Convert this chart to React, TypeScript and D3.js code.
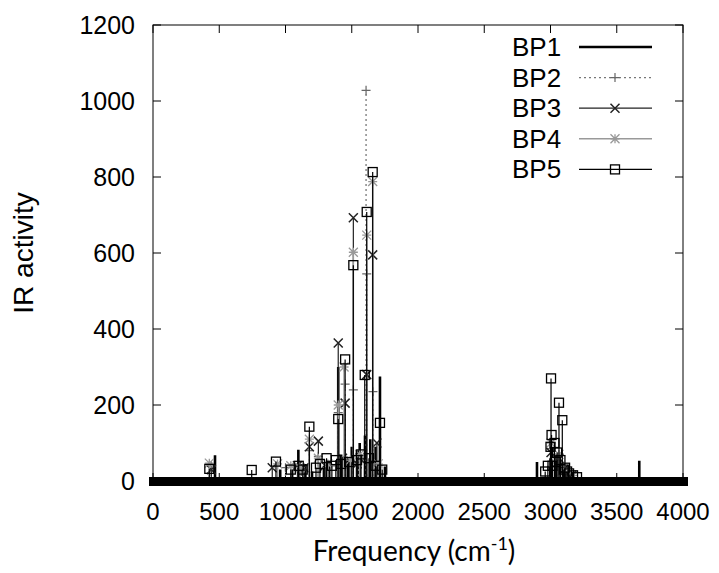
import * as d3 from "d3";

// peaks: [frequency cm-1, IR activity]
const bp1: [number, number][] = [
  [468, 68], [960, 30], [1050, 30], [1097, 82], [1150, 45], [1200, 25], [1290, 40],
  [1330, 50], [1398, 300], [1420, 70], [1470, 60], [1500, 90], [1540, 80], [1560, 100],
  [1600, 120], [1640, 110], [1680, 90], [1713, 275], [1751, 38], [2000, 8], [2506, 8],
  [2898, 50], [3000, 60], [3040, 40], [3502, 8], [3670, 53],
];
const bp2: [number, number][] = [
  [440, 40], [1000, 35], [1120, 30], [1180, 80], [1248, 65], [1340, 40], [1398, 180],
  [1450, 255], [1512, 240], [1550, 50], [1608, 1028], [1613, 545], [1660, 235],
  [1700, 40], [3004, 85], [3060, 55], [3130, 25],
];
const bp3: [number, number][] = [
  [440, 30], [900, 35], [1090, 40], [1140, 35], [1180, 90], [1248, 105], [1300, 40],
  [1398, 363], [1430, 60], [1450, 205], [1512, 693], [1540, 45], [1560, 60], [1613, 280],
  [1658, 595], [1690, 100], [3004, 75], [3040, 45], [3064, 60], [3100, 30], [3160, 15],
];
const bp4: [number, number][] = [
  [425, 47], [940, 45], [1040, 40], [1110, 35], [1180, 110], [1248, 60], [1320, 45],
  [1398, 200], [1442, 300], [1490, 55], [1512, 602], [1560, 70], [1613, 647], [1658, 788],
  [1700, 45], [3004, 100], [3030, 50], [3064, 70], [3110, 30], [3170, 15],
];
const bp5: [number, number][] = [
  [425, 32], [745, 29], [928, 51], [1040, 30], [1100, 40], [1130, 30], [1180, 143],
  [1230, 35], [1260, 45], [1310, 60], [1350, 40], [1380, 55], [1398, 163], [1420, 45],
  [1450, 320], [1480, 50], [1512, 568], [1540, 55], [1570, 70], [1598, 279], [1613, 708],
  [1630, 60], [1658, 813], [1680, 40], [1713, 153], [1730, 30], [2960, 25], [2980, 40],
  [3000, 90], [3004, 270], [3008, 121], [3015, 40], [3030, 100], [3040, 50], [3050, 75],
  [3064, 206], [3075, 55], [3089, 160], [3100, 30], [3110, 35], [3125, 25], [3140, 20],
  [3170, 15], [3200, 10],
];

const names = ["BP1", "BP2", "BP3", "BP4", "BP5"];
const xTicks = [0, 500, 1000, 1500, 2000, 2500, 3000, 3500, 4000];
const yTicks = [0, 200, 400, 600, 800, 1000, 1200];

const W = 719, H = 573;
const x = d3.scaleLinear().domain([0, 4000]).range([153, 683]);
const y = d3.scaleLinear().domain([0, 1200]).range([481, 25]);

const styles = [
  { stroke: "#000", width: 2.6, dash: undefined, mark: "none" },
  { stroke: "#777", width: 1.3, dash: "2,3", mark: "plus" },
  { stroke: "#222", width: 1.2, dash: undefined, mark: "cross" },
  { stroke: "#999", width: 1.5, dash: undefined, mark: "star" },
  { stroke: "#000", width: 1.2, dash: undefined, mark: "square" },
];

function Marker({ kind, cx, cy, color }: { kind: string; cx: number; cy: number; color: string }) {
  const s = 4.5;
  if (kind === "plus")
    return <path d={`M${cx - s},${cy}H${cx + s}M${cx},${cy - s}V${cy + s}`} stroke={color} strokeWidth={1.2} />;
  if (kind === "cross")
    return <path d={`M${cx - s},${cy - s}L${cx + s},${cy + s}M${cx - s},${cy + s}L${cx + s},${cy - s}`} stroke={color} strokeWidth={1.5} />;
  if (kind === "star")
    return (
      <path
        d={`M${cx - s},${cy}H${cx + s}M${cx},${cy - s}V${cy + s}M${cx - s},${cy - s}L${cx + s},${cy + s}M${cx - s},${cy + s}L${cx + s},${cy - s}`}
        stroke={color}
        strokeWidth={1.3}
      />
    );
  if (kind === "square")
    return <rect x={cx - s} y={cy - s} width={2 * s} height={2 * s} fill="none" stroke={color} strokeWidth={1.3} />;
  return null;
}

export default function App() {
  const series = [bp1, bp2, bp3, bp4, bp5];
  const y0 = y(0);
  const font = "'Liberation Sans', Arial, sans-serif";

  return (
    <svg width={W} height={H} style={{ position: "absolute", left: 0, top: 0, background: "#fff" }}>
      {/* frame + inward ticks */}
      <rect x={x(0)} y={y(1200)} width={x(4000) - x(0)} height={y(0) - y(1200)} fill="none" stroke="#000" strokeWidth={1} />
      {yTicks.map((t) => (
        <g key={"y" + t}>
          <line x1={x(0)} x2={x(0) + 8} y1={y(t)} y2={y(t)} stroke="#000" />
          <line x1={x(4000) - 8} x2={x(4000)} y1={y(t)} y2={y(t)} stroke="#000" />
          <text x={135} y={y(t) + 9} textAnchor="end" fontFamily={font} fontSize={25}>{t}</text>
        </g>
      ))}
      {xTicks.map((t) => (
        <g key={"x" + t}>
          <line x1={x(t)} x2={x(t)} y1={y(1200)} y2={y(1200) + 8} stroke="#000" />
          <line x1={x(t)} x2={x(t)} y1={y(0)} y2={y(0) - 8} stroke="#000" />
          <text x={x(t)} y={520} textAnchor="middle" fontFamily={font} fontSize={24}>{t}</text>
        </g>
      ))}

      {/* spectra */}
      {series.map((data, i) => {
        const st = styles[i];
        const d = data.map(([f, v]) => `M${x(f)},${y0}V${y(v)}`).join("");
        return (
          <g key={names[i]}>
            <path d={d} fill="none" stroke={st.stroke} strokeWidth={st.width} strokeDasharray={st.dash} />
            {data.map(([f, v], j) => (
              <Marker key={j} kind={st.mark} cx={x(f)} cy={y(v)} color={st.stroke === "#777" ? "#666" : st.stroke} />
            ))}
          </g>
        );
      })}

      {/* dense markers along zero */}
      <line x1={x(0) - 4} x2={x(4000) + 5} y1={y0 + 0.5} y2={y0 + 0.5} stroke="#000" strokeWidth={9} />

      {/* legend */}
      {names.map((n, i) => {
        const st = styles[i];
        const ly = 47 + i * 30.6;
        return (
          <g key={"lg" + n}>
            <text x={512} y={ly + 9} fontFamily={font} fontSize={26}>{n}</text>
            <line x1={579} x2={652} y1={ly} y2={ly} stroke={st.stroke} strokeWidth={st.width} strokeDasharray={st.dash} />
            <Marker kind={st.mark} cx={615} cy={ly} color={st.stroke === "#777" ? "#666" : st.stroke} />
          </g>
        );
      })}

      {/* axis titles */}
      <text transform={`translate(33,${(y(0) + y(1200)) / 2}) rotate(-90)`} textAnchor="middle" fontFamily={font} fontSize={28}>
        IR activity
      </text>
      <text x={414} y={561} textAnchor="middle" fontFamily="Lato, 'Open Sans', sans-serif" fontSize={28}>
        Frequency (cm<tspan dy={-11} fontSize={18}>-1</tspan><tspan dy={11}>)</tspan>
      </text>
    </svg>
  );
}
